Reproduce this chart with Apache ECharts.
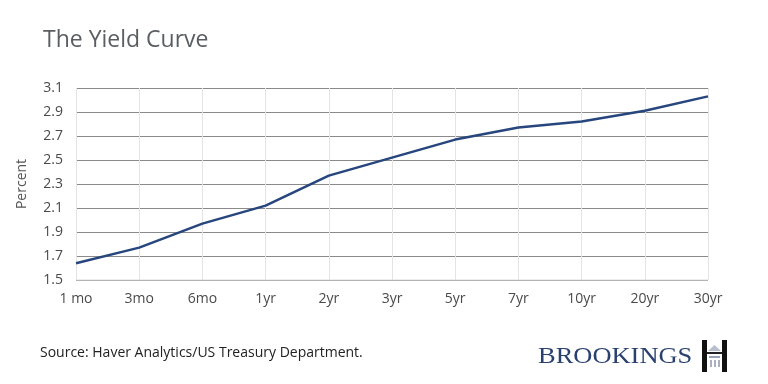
<!DOCTYPE html>
<html>
<head>
<meta charset="utf-8">
<script src="https://cdn.jsdelivr.net/npm/echarts@6/dist/echarts.min.js"></script>
<style>html,body{margin:0;padding:0;background:#fff}#c{width:768px;height:384px}</style>
</head>
<body>
<div id="c"></div>
<script>
var categories = ['1 mo', '3mo', '6mo', '1yr', '2yr', '3yr', '5yr', '7yr', '10yr', '20yr', '30yr'];
var yields = [1.64, 1.77, 1.97, 2.12, 2.37, 2.52, 2.67, 2.77, 2.82, 2.91, 3.03];
var titleText = 'The Yield Curve';
var yAxisName = 'Percent';
var sourceText = 'Source: Haver Analytics/US Treasury Department.';
var logoText = 'BROOKINGS';

var chart = echarts.init(document.getElementById('c'), null, {renderer: 'canvas'});
chart.setOption({
  animation: false,
  backgroundColor: '#fff',
  title: {
    text: titleText, left: 38, top: 24,
    textStyle: {fontFamily: 'Open Sans', fontWeight: 'normal', fontSize: 23, color: '#5a5e63'}
  },
  grid: {left: 76, right: 60, top: 88, bottom: 104},
  xAxis: {
    type: 'category', data: categories, boundaryGap: false,
    axisLine: {show: false}, axisTick: {show: false},
    axisLabel: {fontFamily: 'Open Sans', fontSize: 14, color: '#4a4a4a', margin: 12},
    splitLine: {show: true, lineStyle: {color: '#e4e4e4', width: 1}}
  },
  yAxis: {
    type: 'value', min: 1.5, max: 3.1, interval: 0.2,
    name: yAxisName, nameLocation: 'middle', nameGap: 47, nameRotate: 90,
    nameTextStyle: {fontFamily: 'Open Sans', fontSize: 14, color: '#555'},
    axisLine: {show: false}, axisTick: {show: false},
    axisLabel: {fontFamily: 'Open Sans', fontSize: 14, color: '#4a4a4a', margin: 13,
      formatter: function (v) { return v.toFixed(1); }},
    splitLine: {lineStyle: {color: '#8a8a8a', width: 1.2}}
  },
  series: [{
    type: 'line', data: yields, symbol: 'none',
    lineStyle: {color: '#27467e', width: 2.5}
  }],
  graphic: [
    {type: 'rect', shape: {x: 76, y: 279.5, width: 632, height: 1}, style: {fill: '#dcdcdc'}, z: 1},
    {type: 'text', left: 40, top: 346,
      style: {text: sourceText, font: '14px "Liberation Sans Narrow", "Open Sans", sans-serif', fill: '#222'}},
    {type: 'text', x: 538, y: 345, scaleX: 1.15,
      style: {text: logoText, font: '23px "Liberation Serif", "DejaVu Serif", serif', fill: '#2a4170'}},
    {type: 'rect', shape: {x: 702, y: 340, width: 5, height: 32}, style: {fill: '#111'}},
    {type: 'rect', shape: {x: 722, y: 340, width: 5, height: 32}, style: {fill: '#111'}},
    {type: 'rect', shape: {x: 707, y: 352, width: 15, height: 2}, style: {fill: '#222'}},
    {type: 'rect', shape: {x: 709, y: 356, width: 11, height: 2}, style: {fill: '#9aa3b5'}},
    {type: 'rect', shape: {x: 710, y: 360, width: 2, height: 7}, style: {fill: '#aab0be'}},
    {type: 'rect', shape: {x: 714, y: 360, width: 2, height: 7}, style: {fill: '#aab0be'}},
    {type: 'rect', shape: {x: 718, y: 360, width: 2, height: 7}, style: {fill: '#aab0be'}},
    {type: 'polygon', shape: {points: [[708, 351], [714.5, 345], [721, 351]]}, style: {fill: '#b8bfcc'}}
  ]
});
</script>
</body>
</html>
